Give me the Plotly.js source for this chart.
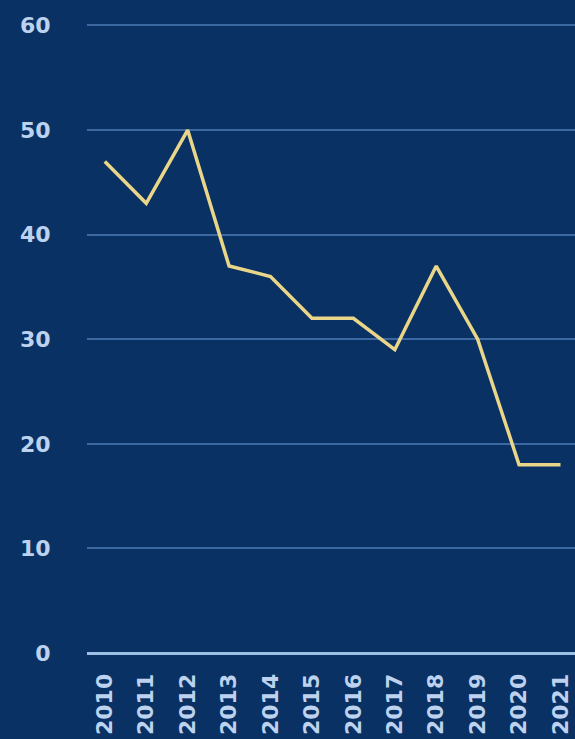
<!DOCTYPE html>
<html>
<head>
<meta charset="utf-8">
<script src="https://cdn.plot.ly/plotly-3.0.1.min.js"></script>
<style>
html,body{margin:0;padding:0;background:#0a3163;}
#chart{width:575px;height:739px;}
</style>
</head>
<body>
<div id="chart"></div>
<script>
const years = ['2010','2011','2012','2013','2014','2015','2016','2017','2018','2019','2020','2021'];
const values = [47, 43, 50, 37, 36, 32, 32, 29, 37, 30, 18, 18];
const yTicks = [0, 10, 20, 30, 40, 50, 60];

const labelFont = {family: 'DejaVu Sans', size: 22, color: '#bcd2ee', weight: 'bold'};

Plotly.newPlot('chart', [{
  type: 'scatter',
  mode: 'lines',
  x: years,
  y: values,
  line: {color: '#e9d688', width: 3.5},
  hoverinfo: 'none'
}], {
  width: 575,
  height: 739,
  paper_bgcolor: '#0a3163',
  plot_bgcolor: '#0a3163',
  margin: {l: 87, r: 0, t: 15, b: 86},
  showlegend: false,
  xaxis: {
    type: 'category',
    range: [-0.43, 11.35],
    showgrid: false,
    zeroline: false,
    showline: false,
    ticks: 'outside',
    ticklen: 11,
    tickcolor: 'rgba(0,0,0,0)',
    tickangle: -90,
    tickfont: labelFont,
    fixedrange: true
  },
  yaxis: {
    range: [0, 61],
    tickvals: yTicks,
    ticktext: yTicks.map(String),
    showgrid: true,
    gridcolor: '#3b68a0',
    gridwidth: 2,
    zeroline: true,
    zerolinecolor: '#9fc0e6',
    zerolinewidth: 3,
    showline: false,
    ticks: 'outside',
    ticklen: 31,
    tickcolor: 'rgba(0,0,0,0)',
    tickfont: labelFont,
    fixedrange: true
  }
}, {displayModeBar: false, staticPlot: true});
</script>
</body>
</html>
